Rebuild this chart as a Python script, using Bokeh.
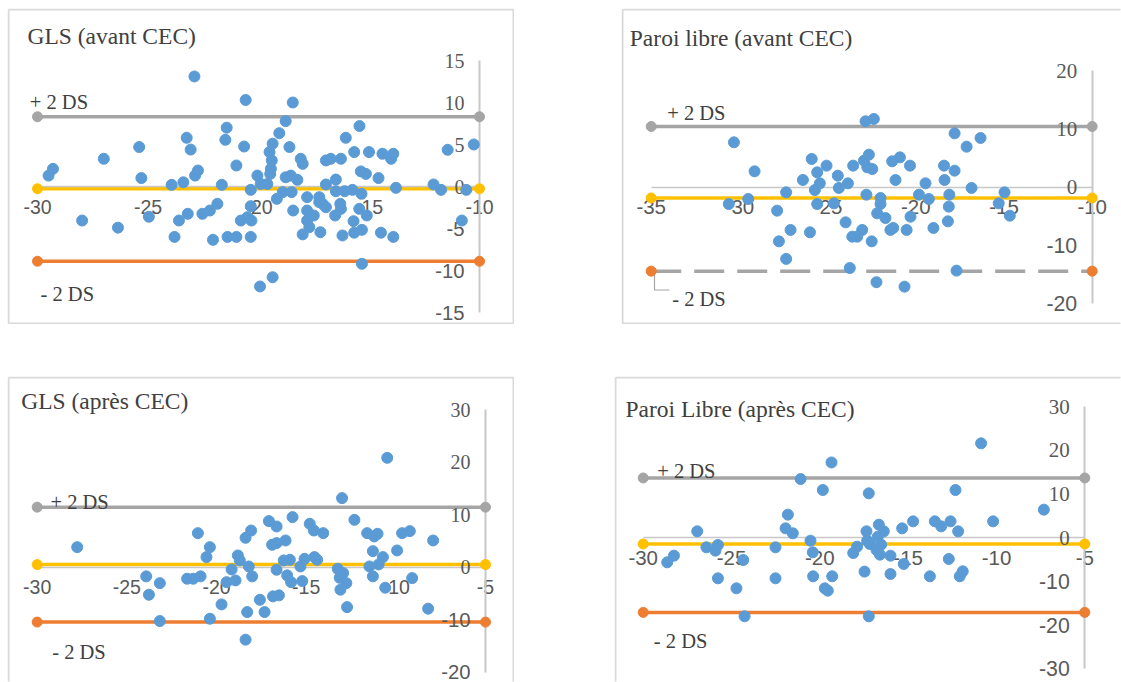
from bokeh.plotting import figure
from bokeh.models import Range1d, LinearAxis, FixedTicker, Label, Spacer
from bokeh.layouts import row, column
from bokeh.embed import file_html
from bokeh.resources import INLINE

# ---------------- data ----------------
# Panel 1 : GLS (avant CEC)
gls_avant_x = [-29.5, -29.3, -27.98, -27.0, -26.36, -25.4, -25.3, -24.96, -23.93, -23.8, -23.6,
               -23.4, -23.25, -23.2, -23.07, -22.9, -22.87, -22.74, -22.54, -22.2, -22.06,
               -21.86, -21.66, -21.5, -21.44, -21.4, -21.0, -21.0, -20.8, -20.65, -20.58,
               -20.5, -20.35, -20.35, -20.35, -20.32, -20.05, -19.93, -19.9, -19.6, -19.5,
               -19.47, -19.44, -19.4, -19.36, -19.36, -19.17, -19.06, -18.9, -18.77, -18.77,
               -18.6, -18.54, -18.5, -18.45, -18.43, -18.24, -18.09, -18.0, -18.0, -17.8,
               -17.8, -17.8, -17.7, -17.5, -17.25, -17.25, -17.2, -17.1, -16.95, -16.95,
               -16.95, -16.73, -16.53, -16.5, -16.5, -16.3, -16.27, -16.27, -16.2, -16.1,
               -16.05, -15.75, -15.7, -15.67, -15.67, -15.44, -15.43, -15.37, -15.34, -15.32,
               -15.32, -15.14, -15.1, -15.0, -14.57, -14.46, -14.39, -14.0, -13.9, -13.9,
               -13.78, -12.08, -11.74, -11.44, -10.8, -10.6, -10.26]
gls_avant_y = [1.3, 2.1, -4.05, 3.3, -4.9, 4.7, 1.0, -3.6, 0.2, -6.0, -4.05,
               0.5, 5.8, -3.25, 4.4, 13.1, 1.3, 1.9, -3.25, -2.86, -6.35,
               -2.06, 0.2, 5.56, 7.0, -6.0, -6.0, 2.5, -4.05, 4.76, 10.3,
               -3.65, -6.0, -2.34, -0.4, -4.05, 1.3, -11.9, 0.3, 0.3, 4.1,
               1.5, 2.1, 3.1, 5.1, -10.8, -1.47, 6.35, -0.67, 7.78, 1.1,
               4.7, 1.3, -0.67, 10.0, -2.86, 0.8, 3.3, 2.7, -5.7, -1.27,
               -2.86, -4.05, -4.84, -3.45, -1.27, -1.87, -5.44, -2.06, 3.1, 0.24,
               -2.46, 3.3, -3.45, 0.83, -0.56, -2.06, 3.3, -2.66, -5.83, -0.56,
               5.8, -0.4, -4.13, 4.1, -5.5, -2.66, 7.2, 1.8, -0.87, -5.16,
               -9.2, 1.5, -3.45, 4.1, 1.0, -5.5, 3.9, 3.3, 3.9, -6.0,
               -0.16, 0.24, -0.4, 4.37, -4.05, -0.4, 5.0]
gls_avant_limits = [8.3, -0.27, -8.9]          # +2 DS, mean, -2 DS
gls_avant_xticks = [-30, -25, -20, -15, -10]
gls_avant_yticks = [-15, -10, -5, 0, 5, 10, 15]

# Panel 2 : Paroi libre (avant CEC)
pl_avant_x = [-30.31, -30.6, -29.5, -29.14, -27.86, -27.76, -27.35, -27.35, -27.1, -26.4,
              -26.0, -25.9, -25.72, -25.59, -25.59, -25.44, -25.06, -24.64, -24.42, -24.36,
              -23.98, -23.85, -23.74, -23.6, -23.55, -23.32, -23.04, -22.85, -22.8, -22.94,
              -22.66, -22.75, -22.47, -22.5, -22.38, -22.23, -22.19, -22.0, -22.0, -21.72,
              -21.44, -21.28, -21.34, -21.15, -20.9, -20.64, -20.52, -20.33, -20.3, -19.82,
              -19.45, -19.26, -19.0, -18.4, -18.37, -18.18, -18.13, -18.1, -17.8, -17.8,
              -17.69, -17.12, -16.84, -16.33, -15.3, -14.97, -14.67]
pl_avant_y = [7.69, -2.89, -2.03, 2.71, -4.03, -9.29, -0.89, -12.3, -7.34, 1.23,
              -7.74, 4.83, -0.49, 2.54, -2.89, 0.66, 3.69, -2.77, 1.97, -0.14,
              -6.03, 0.66, -13.86, -8.49, 3.69, -8.49, -7.34, 11.29, -1.29, 4.54,
              5.57, 3.4, 3.11, -9.29, 11.69, -16.3, -4.49, -1.86, -2.89, -5.29,
              -7.34, -7.0, 4.43, 1.23, 5.11, -17.06, -7.34, 3.69, -5.06, -1.29,
              0.66, -2.03, -7.0, 3.69, 1.23, -5.86, -3.34, -1.29, 2.83, 9.23,
              -14.31, 6.94, -0.14, 8.43, -2.77, -0.89, -4.89]
pl_avant_limits = [10.4, -1.85, -14.4]
pl_avant_xticks = [-35, -30, -25, -20, -15, -10]
pl_avant_yticks = [-20, -10, 0, 10, 20]

# Panel 3 : GLS (après CEC)
gls_apres_x = [-27.77, -23.92, -23.77, -23.16, -23.16, -21.64, -21.3, -21.04, -20.89, -20.56,
               -20.37, -20.37, -19.72, -19.44, -19.16, -18.94, -18.81, -18.7, -18.38, -18.38,
               -18.29, -18.2, -18.07, -18.01, -17.58, -17.32, -17.08, -16.9, -16.85, -16.65,
               -16.65, -16.65, -16.52, -16.25, -16.15, -16.06, -15.91, -15.84, -15.76, -15.32,
               -15.22, -15.09, -14.8, -14.57, -14.54, -14.39, -14.05, -13.24, -13.13, -13.09,
               -13.0, -12.94, -12.76, -12.72, -12.31, -11.6, -11.47, -11.28, -11.28, -11.2,
               -11.02, -10.96, -10.72, -10.59, -10.48, -9.93, -9.65, -9.22, -9.09, -8.2, -7.92]
gls_apres_y = [3.83, -1.74, -5.24, -3.03, -10.25, -2.19, -2.19, 6.5, -1.74, 1.93,
               3.83, -9.81, -7.08, -2.84, -0.42, -2.51, 2.25, 1.3, 5.61, -13.8,
               -8.54, 0.15, 7.0, -1.74, -6.2, -8.54, 8.79, 4.28, -5.55, 7.77,
               4.6, -0.48, -5.36, 1.3, 5.1, -1.55, 1.42, -2.84, 9.55, 0.15,
               -2.64, 1.61, 8.28, 7.0, 1.93, 1.42, 6.5, -0.29, -2.0, -4.28,
               13.17, -1.11, -3.03, -7.6, 9.04, 6.5, 0.15, -1.74, 3.07, 5.87,
               6.38, 0.53, 1.93, -3.9, 20.85, 3.2, 6.5, 6.88, -2.07, -7.9, 5.1]
gls_apres_limits = [11.45, 0.5, -10.45]
gls_apres_xticks = [-30, -25, -20, -15, -10, -5]
gls_apres_yticks = [-20, -10, 0, 10, 20, 30]

# Panel 4 : Paroi Libre (après CEC)
pl_apres_x = [-28.64, -28.26, -26.94, -26.42, -25.91, -25.77, -25.77, -24.72, -24.34, -24.26,
              -22.51, -22.51, -21.94, -21.81, -21.53, -21.09, -20.53, -20.4, -20.38, -19.83,
              -19.72, -19.55, -19.34, -19.3, -18.11, -17.89, -17.47, -17.36, -17.32, -17.23,
              -17.23, -17.17, -16.79, -16.72, -16.66, -16.6, -16.53, -16.38, -16.0, -16.0,
              -15.34, -15.25, -14.72, -13.77, -13.49, -13.13, -12.7, -12.6, -12.32, -12.17,
              -12.08, -11.91, -10.87, -10.19, -7.32]
pl_apres_y = [-5.64, -4.12, 1.45, -2.21, -2.97, -1.68, -9.3, -11.59, -5.11, -17.99,
              -2.21, -9.3, 2.13, 5.26, 0.99, 13.41, -0.69, -3.35, -8.84, 10.9,
              -11.59, -12.12, 17.2, -8.84, -3.51, -2.06, -7.77, 1.45, -0.69, 10.14,
              -17.99, -1.45, -2.82, 0.23, 2.97, -3.89, -1.6, 1.45, -4.12, -8.31,
              2.13, -6.02, 3.73, -8.84, 3.73, 2.59, -4.88, 3.73, 10.9, 1.45,
              -8.84, -7.7, 21.57, 3.73, 6.4]
pl_apres_limits = [13.65, -1.45, -17.1]
pl_apres_xticks = [-30, -25, -20, -15, -10, -5]
pl_apres_yticks = [-30, -20, -10, 0, 10, 20, 30]

titles = ["GLS (avant CEC)", "Paroi libre (avant CEC)", "GLS (après CEC)", "Paroi Libre (après CEC)"]
limit_labels = ["+ 2 DS", "- 2 DS"]

# ---------------- style ----------------
BLUE = "#5B9BD5"
GRAY = "#A5A5A5"
YELLOW = "#FFC000"
ORANGE = "#ED7D31"
AXIS = "#C8C8C8"
BORDER = "#D9D9D9"
TICK = "#595959"
TEXT = "#404040"
SERIF = "Liberation Serif"
SANS = "Liberation Sans"


def make_panel(title, xs, ys, limits, xticks, yticks, geom, labs, fscale,
               sides, lower_dashed=False):
    fl, ft, w, h = geom["box"]
    (xa0, px0), (xa1, px1) = geom["x"]
    (ya0, py0), (ya1, py1) = geom["y"]
    sx = (px1 - px0) / (xa1 - xa0)
    sy = (py1 - py0) / (ya1 - ya0)

    def dx(px):
        return xa0 + (px - px0) / sx

    def dy(py):
        return ya0 + (py - py0) / sy

    p = figure(width=w, height=h,
               x_range=Range1d(dx(fl), dx(fl + w)),
               y_range=Range1d(dy(ft + h), dy(ft)),
               x_axis_type=None, y_axis_type=None,
               toolbar_location=None, output_backend="svg", min_border=0)
    p.outline_line_color = None
    p.background_fill_color = "white"
    p.border_fill_color = "white"

    # panel border (chart area box)
    L, R, T, B = fl + 1, fl + w - 1, ft + 1, ft + h - 1
    segs = {"l": ([L, L], [T, B]), "r": ([R, R], [T, B]),
            "t": ([L, R], [T, T]), "b": ([L, R], [B, B])}
    for s in sides:
        xx, yy = segs[s]
        p.line([dx(v) for v in xx], [dy(v) for v in yy], line_color=BORDER,
               line_width=2, level="underlay")

    xmin, xmax = xticks[0], xticks[-1]
    up, mean, low = limits

    # x axis crossing at y = 0
    xa = LinearAxis(fixed_location=0, ticker=FixedTicker(ticks=xticks, minor_ticks=[]),
                    bounds=(xmin, xmax))
    xa.major_label_overrides = {t: str(t) for t in xticks}
    xa.axis_line_color = AXIS
    xa.axis_line_width = 1.3
    xa.major_tick_line_color = None
    xa.minor_tick_line_color = None
    xa.major_tick_out = 0
    xa.major_tick_in = 0
    xa.major_label_text_font = SANS
    xa.major_label_text_font_size = f"{19.5 * fscale:.1f}px"
    xa.major_label_text_color = TICK
    xa.major_label_standoff = 13
    p.add_layout(xa, "below")

    # y axis at the right end of x (labels on its left)
    pos = [t for t in yticks if t >= 0]
    neg = [t for t in yticks if t < 0]
    ya = LinearAxis(fixed_location=xmax, ticker=FixedTicker(ticks=pos, minor_ticks=[]),
                    bounds=(min(yticks), max(yticks)))
    ya.axis_line_color = AXIS
    ya.axis_line_width = 2
    ya.major_label_text_font = SERIF
    ya.major_label_text_font_size = f"{20 * fscale:.1f}px"
    yb = LinearAxis(fixed_location=xmax, ticker=FixedTicker(ticks=neg, minor_ticks=[]))
    yb.axis_line_color = None
    yb.major_label_text_font = SANS
    yb.major_label_text_font_size = f"{20.3 * fscale:.1f}px"
    for a, tl in ((ya, pos), (yb, neg)):
        a.major_label_overrides = {t: str(t) for t in tl}
        a.major_tick_line_color = None
        a.minor_tick_line_color = None
        a.major_tick_out = 0
        a.major_tick_in = 0
        a.major_label_text_color = TICK
        a.major_label_standoff = 15
        p.add_layout(a, "left")

    # limit lines
    p.line([xmin, xmax], [up, up], line_color=GRAY, line_width=3.5)
    p.line([xmin, xmax], [mean, mean], line_color=YELLOW, line_width=3.5)
    if lower_dashed:
        p.line([xmin, xmax], [low, low], line_color=GRAY, line_width=3.5,
               line_dash="30 13")
    else:
        p.line([xmin, xmax], [low, low], line_color=ORANGE, line_width=3.5)
    for yv, c in ((up, GRAY), (mean, YELLOW), (low, ORANGE)):
        m = p.scatter([xmin, xmax], [yv, yv], size=10, color=c)
        m.level = "overlay"

    if "leader" in labs:
        pts = labs["leader"]
        p.line([dx(a) for a, b in pts], [dy(b) for a, b in pts], line_color=GRAY,
               line_width=1.2)

    # data points
    r = p.scatter(xs, ys, size=11, color=BLUE)
    r.level = "overlay"

    # texts
    p.add_layout(Label(x=dx(labs["title"][0]), y=dy(labs["title"][1]), text=title,
                       text_font=SERIF, text_font_size="23.5px", text_color=TEXT,
                       text_baseline="alphabetic", text_align="left"))
    for key, txt in (("plus", limit_labels[0]), ("minus", limit_labels[1])):
        p.add_layout(Label(x=dx(labs[key][0]), y=dy(labs[key][1]), text=txt,
                           text_font=SERIF, text_font_size="20.5px", text_color=TEXT,
                           text_baseline="alphabetic", text_align="left"))
    return p


# page-pixel geometry of each panel (box) and axis anchors
G1 = dict(box=(7, 8, 507, 316), x=((-30, 37), (-10, 479)), y=((15, 60), (-15, 312)))
G2 = dict(box=(621, 8, 500, 316), x=((-35, 650.7), (-10, 1091.7)), y=((20, 70), (-20, 303.3)))
G3 = dict(box=(7, 376, 507, 306), x=((-30, 36.7), (-5, 485)), y=((30, 409.3), (-20, 671.7)))
G4 = dict(box=(614, 376, 507, 306), x=((-30, 642.7), (-5, 1084.3)), y=((30, 406), (-30, 668.3)))

T1 = dict(title=(27, 35), plus=(29.3, 101.7), minus=(40, 293.3))
T2 = dict(title=(629.3, 37.5), plus=(666.7, 112.7), minus=(671.7, 298.3),
          leader=[(654, 272), (654, 289.5), (669, 289.5)])
T3 = dict(title=(20.7, 400.7), plus=(50, 501.7), minus=(51.7, 651.7))
T4 = dict(title=(625, 408.3), plus=(656.7, 470.7), minus=(653.3, 640.7))

p1 = make_panel(titles[0], gls_avant_x, gls_avant_y, gls_avant_limits,
                gls_avant_xticks, gls_avant_yticks, G1, T1, 1.0, "lrtb")
p2 = make_panel(titles[1], pl_avant_x, pl_avant_y, pl_avant_limits,
                pl_avant_xticks, pl_avant_yticks, G2, T2, 1.05, "ltb", lower_dashed=True)
p3 = make_panel(titles[2], gls_apres_x, gls_apres_y, gls_apres_limits,
                gls_apres_xticks, gls_apres_yticks, G3, T3, 1.0, "ltr")
p4 = make_panel(titles[3], pl_apres_x, pl_apres_y, pl_apres_limits,
                pl_apres_xticks, pl_apres_yticks, G4, T4, 1.05, "lt")

layout = column(
    Spacer(width=1121, height=8),
    row(Spacer(width=7, height=316), p1, Spacer(width=107, height=316), p2),
    Spacer(width=1121, height=52),
    row(Spacer(width=7, height=306), p3, Spacer(width=100, height=306), p4),
)

open("out.html", "w").write(file_html(layout, INLINE, title="Bland-Altman"))
